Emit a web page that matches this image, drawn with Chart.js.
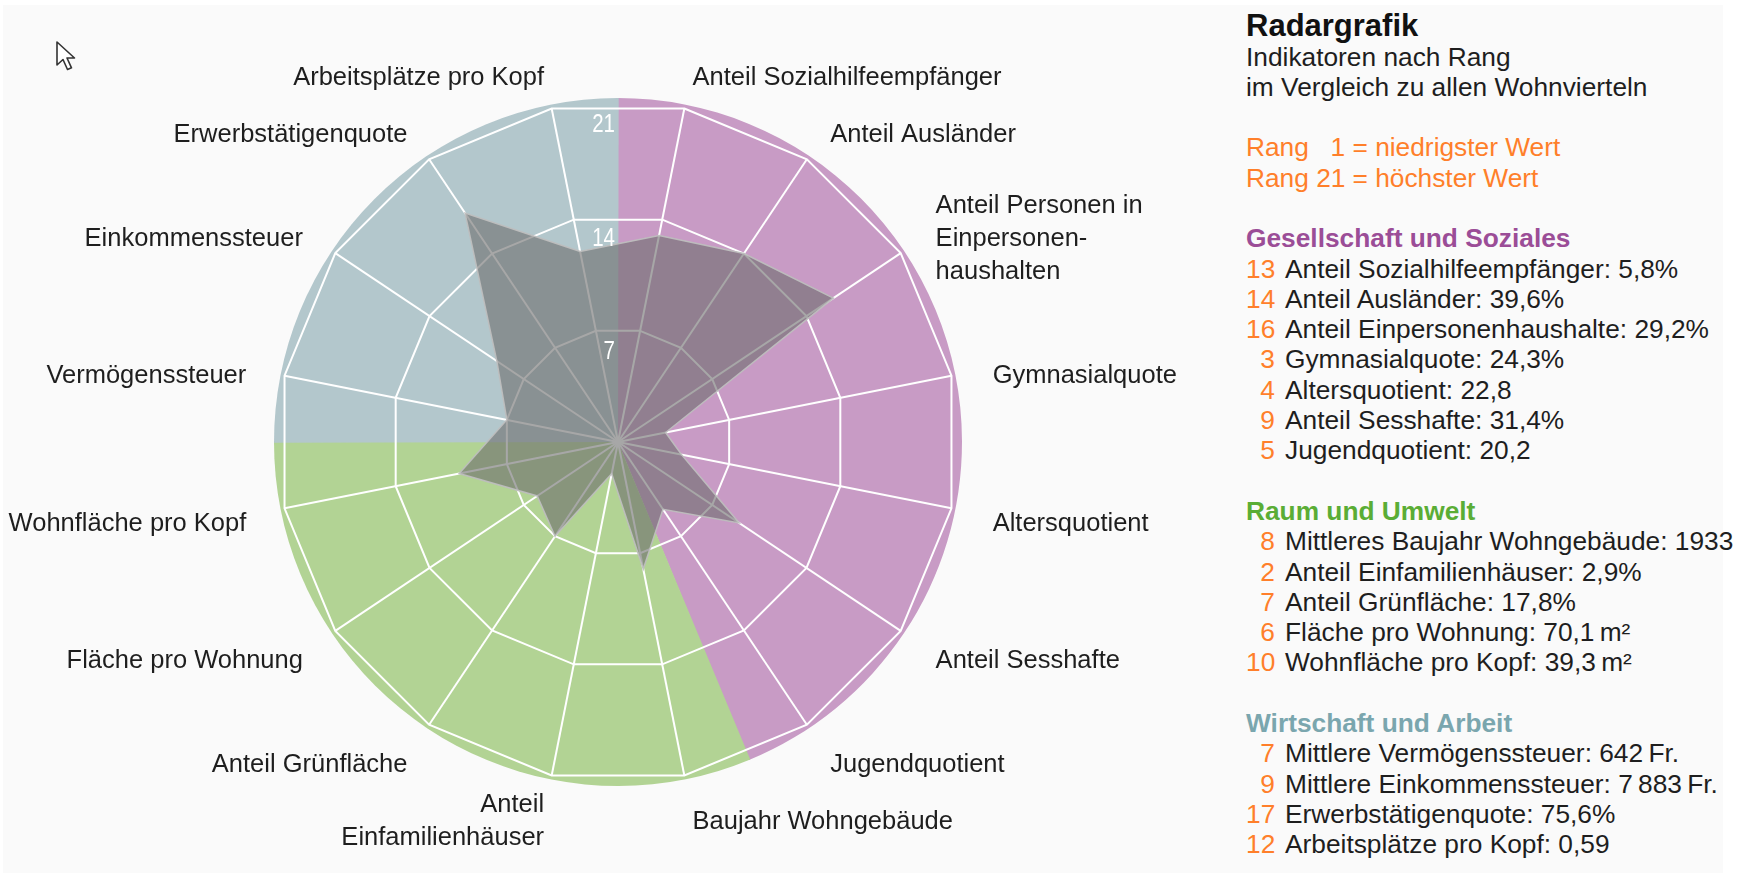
<!DOCTYPE html>
<html>
<head>
<meta charset="utf-8">
<script src="https://cdn.jsdelivr.net/npm/chart.js@4.4.1/dist/chart.umd.min.js"></script>
<style>
  html, body { margin: 0; padding: 0; background: #ffffff; width: 1744px; height: 875px; overflow: hidden; }
  #bg { position: absolute; left: 3px; top: 5px; width: 1720px; height: 868px; background: #fafafa; }
  #chartBox { position: absolute; left: 0; top: 0; width: 1236px; height: 875px; }
  #panel { position: absolute; left: 1246px; top: 8.5px; font-family: "Liberation Sans", Arial, sans-serif;
           font-size: 26.3px; line-height: 30.3px; color: #1e1e1e; white-space: nowrap; }
  #panel .title { font-weight: bold; font-size: 31px; line-height: 33px; color: #111; }
  #panel .gap { height: 30.3px; }
  #panel .or { color: #ff7f2a; }
  #panel .head { font-weight: bold; }
  #panel .num { display: inline-block; width: 29px; text-align: right; color: #ff7f2a; margin-right: 10px; }
  #panel .rk { display: inline-block; width: 29px; text-align: right; }
  #cursor { position: absolute; left: 55px; top: 40px; }
</style>
</head>
<body>
<div id="bg"></div>
<div id="chartBox"><canvas id="c" width="1236" height="875"></canvas></div>
<div id="panel"></div>
<svg id="cursor" width="26" height="34" viewBox="0 0 26 34">
  <path d="M2 2 L2 25 L8 19.5 L12.5 29.5 L16.5 27.8 L12 18 L19.5 18 Z" fill="#ffffff" stroke="#333" stroke-width="1.6" stroke-linejoin="round"/>
</svg>
<script>
// ---- data ----
const axisLabels = [
  'Anteil Sozialhilfeempfänger',
  'Anteil Ausländer',
  ['Anteil Personen in', 'Einpersonen-', 'haushalten'],
  'Gymnasialquote',
  'Altersquotient',
  'Anteil Sesshafte',
  'Jugendquotient',
  'Baujahr Wohngebäude',
  ['Anteil', 'Einfamilienhäuser'],
  'Anteil Grünfläche',
  'Fläche pro Wohnung',
  'Wohnfläche pro Kopf',
  'Vermögenssteuer',
  'Einkommenssteuer',
  'Erwerbstätigenquote',
  'Arbeitsplätze pro Kopf'
];
const ranks = [13, 14, 16, 3, 4, 9, 5, 8, 2, 7, 6, 10, 7, 9, 17, 12];
const indicatorTexts = [
  'Anteil Sozialhilfeempfänger: 5,8%',
  'Anteil Ausländer: 39,6%',
  'Anteil Einpersonenhaushalte: 29,2%',
  'Gymnasialquote: 24,3%',
  'Altersquotient: 22,8',
  'Anteil Sesshafte: 31,4%',
  'Jugendquotient: 20,2',
  'Mittleres Baujahr Wohngebäude: 1933',
  'Anteil Einfamilienhäuser: 2,9%',
  'Anteil Grünfläche: 17,8%',
  'Fläche pro Wohnung: 70,1\u2009m²',
  'Wohnfläche pro Kopf: 39,3\u2009m²',
  'Mittlere Vermögenssteuer: 642\u2009Fr.',
  'Mittlere Einkommenssteuer: 7\u2009883\u2009Fr.',
  'Erwerbstätigenquote: 75,6%',
  'Arbeitsplätze pro Kopf: 0,59'
];
const groupNames = ['Gesellschaft und Soziales', 'Raum und Umwelt', 'Wirtschaft und Arbeit'];
const groupSizes = [7, 5, 4];
const tickValues = [7, 14, 21];
const rankMin = 0;
const rankMax = 21;

// ---- styles ----
const groupFill = ['#c89bc5', '#b2d394', '#b3c7cc'];
const groupHeadColor = ['#9b4d97', '#5aad35', '#7aa6ae'];
const FONT = '"Liberation Sans", Arial, sans-serif';

// ---- side panel ----
(function buildPanel() {
  let html = '<div class="title">Radargrafik</div>' +
    '<div>Indikatoren nach Rang</div>' +
    '<div>im Vergleich zu allen Wohnvierteln</div>' +
    '<div class="gap"></div>' +
    '<div class="or">Rang <span class="rk">1</span> = niedrigster Wert</div>' +
    '<div class="or">Rang <span class="rk">21</span> = höchster Wert</div>';
  let idx = 0;
  groupSizes.forEach((size, g) => {
    html += '<div class="gap"></div><div class="head" style="color:' + groupHeadColor[g] + '">' + groupNames[g] + '</div>';
    for (let k = 0; k < size; k++, idx++) {
      html += '<div><span class="num">' + ranks[idx] + '</span>' + indicatorTexts[idx] + '</div>';
    }
  });
  document.getElementById('panel').innerHTML = html;
})();

// ---- plugins ----
const sectorPlugin = {
  id: 'sectors',
  beforeDraw(chart) {
    const s = chart.scales.r, ctx = chart.ctx;
    const n = chart.data.labels.length, step = 2 * Math.PI / n;
    const R = s.drawingArea + 4;
    let idx = 0;
    ctx.save();
    groupSizes.forEach((size, g) => {
      const a0 = s.getIndexAngle(idx) - step / 2 - Math.PI / 2;
      const a1 = s.getIndexAngle(idx) + (size - 1) * step + step / 2 - Math.PI / 2;
      ctx.beginPath();
      ctx.moveTo(s.xCenter, s.yCenter);
      ctx.arc(s.xCenter, s.yCenter, R, a0 - 0.002, a1 + 0.002);
      ctx.closePath();
      ctx.fillStyle = groupFill[g];
      ctx.fill();
      idx += size;
    });
    ctx.restore();
  }
};

const tickPlugin = {
  id: 'tickText',
  afterDatasetsDraw(chart) {
    const s = chart.scales.r, ctx = chart.ctx;
    ctx.save();
    ctx.fillStyle = '#ffffff';
    ctx.font = '25px ' + FONT;
    ctx.textAlign = 'right';
    ctx.textBaseline = 'middle';
    tickValues.forEach(v => {
      const d = s.getDistanceFromCenterForValue(v);
      ctx.save();
      ctx.translate(s.xCenter - 3, s.yCenter - (d - 23.5));
      ctx.scale(0.82, 1);
      ctx.fillText(String(v), 0, 0);
      ctx.restore();
    });
    ctx.restore();
  }
};

const labelPlugin = {
  id: 'axisText',
  afterDraw(chart) {
    const s = chart.scales.r, ctx = chart.ctx;
    const labels = chart.data.labels;
    ctx.save();
    ctx.fillStyle = '#1e1e1e';
    ctx.font = '25.5px ' + FONT;
    ctx.textBaseline = 'middle';
    const lh = 33;
    labels.forEach((lab, i) => {
      const a = s.getIndexAngle(i);
      const right = Math.sin(a) >= 0;
      const px = s.getPointPosition(i, s.drawingArea + (right ? 42 : 39)).x;
      const py = s.getPointPosition(i, s.drawingArea + 39).y;
      ctx.textAlign = right ? 'left' : 'right';
      const lines = Array.isArray(lab) ? lab : [lab];
      const y0 = py + 8 - (lines.length - 1) * lh / 2;
      lines.forEach((t, k) => ctx.fillText(t, px, y0 + k * lh));
    });
    ctx.restore();
  }
};

new Chart(document.getElementById('c'), {
  type: 'radar',
  data: {
    labels: axisLabels,
    datasets: [{
      data: ranks,
      fill: true,
      backgroundColor: 'rgba(108,108,108,0.6)',
      borderColor: 'rgba(190,190,190,0.95)',
      borderWidth: 1.5,
      pointRadius: 0,
      pointHoverRadius: 0,
      tension: 0
    }]
  },
  options: {
    responsive: false,
    animation: false,
    events: [],
    layout: { padding: { left: 278, right: 278, top: 102, bottom: 93 } },
    plugins: { legend: { display: false }, tooltip: { enabled: false } },
    scales: {
      r: {
        min: rankMin,
        max: rankMax,
        startAngle: 360 / axisLabels.length / 2,
        ticks: { display: false, stepSize: 7 },
        grid: { color: '#ffffff', lineWidth: 2 },
        angleLines: { color: '#ffffff', lineWidth: 2 },
        pointLabels: { display: false }
      }
    }
  },
  plugins: [sectorPlugin, tickPlugin, labelPlugin]
});
</script>
</body>
</html>
